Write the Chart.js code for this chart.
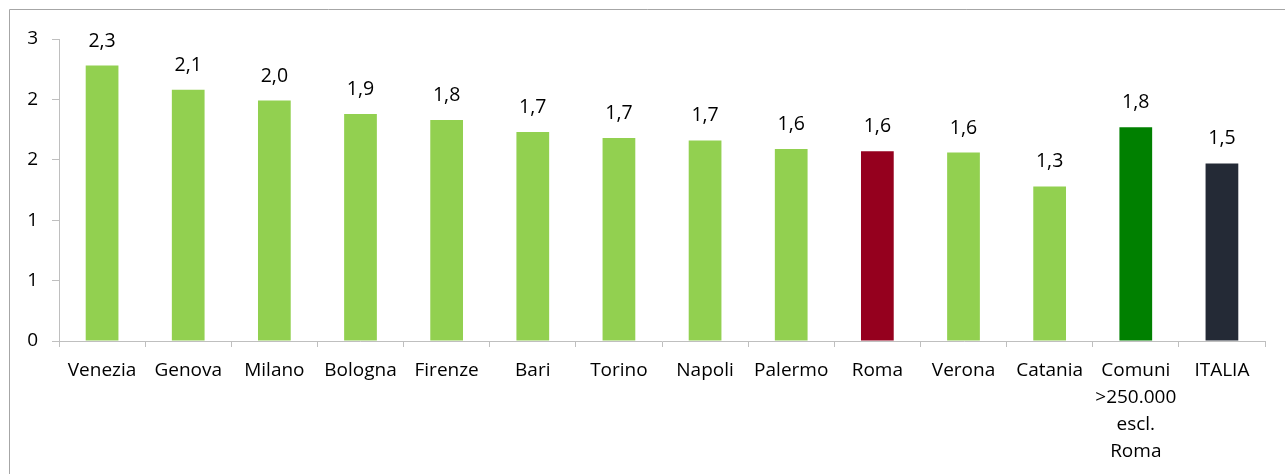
<!DOCTYPE html>
<html lang="it">
<head>
    <meta charset="UTF-8">
    <title>Grandi comuni</title>
    <script src="https://cdn.jsdelivr.net/npm/chart.js"></script>
    <style>
        html, body { margin: 0; padding: 0; background: #fff; overflow: hidden; }
        #wrap { position: relative; width: 1285px; height: 474px; }
    </style>
</head>
<body>
<div id="wrap"><canvas id="chart" width="1285" height="474"></canvas></div>
<script>
    // dati
    const comuni = ['Venezia', 'Genova', 'Milano', 'Bologna', 'Firenze', 'Bari', 'Torino', 'Napoli',
        'Palermo', 'Roma', 'Verona', 'Catania', ['Comuni', '>250.000', 'escl.', 'Roma'], 'ITALIA'];
    const valori = [2.28, 2.08, 1.99, 1.88, 1.83, 1.73, 1.68, 1.66, 1.59, 1.57, 1.56, 1.28, 1.77, 1.47];
    const yTicks = [0, 0.5, 1, 1.5, 2, 2.5];

    const colori = ['#92d050', '#92d050', '#92d050', '#92d050', '#92d050', '#92d050', '#92d050', '#92d050',
        '#92d050', '#95001e', '#92d050', '#92d050', '#008000', '#242a36'];

    const FONT = "'Open Sans', sans-serif";
    const grigio = '#bfbfbf';

    // etichette sopra le barre
    const etichette = {
        id: 'etichette',
        afterDatasetsDraw(chart) {
            const ctx = chart.ctx;
            const meta = chart.getDatasetMeta(0);
            ctx.save();
            ctx.font = '19.5px ' + FONT;
            ctx.fillStyle = '#000';
            ctx.textAlign = 'center';
            ctx.textBaseline = 'alphabetic';
            meta.data.forEach((bar, i) => {
                const txt = valori[i].toFixed(1).replace('.', ',');
                ctx.fillText(txt, bar.x, bar.y - 19);
            });
            ctx.restore();
        }
    };

    // cornice esterna (solo lato sinistro e superiore visibili)
    const cornice = {
        id: 'cornice',
        beforeDraw(chart) {
            const ctx = chart.ctx;
            ctx.save();
            ctx.strokeStyle = '#a6a6a6';
            ctx.lineWidth = 1;
            ctx.beginPath();
            ctx.moveTo(9.5, 474);
            ctx.lineTo(9.5, 9.5);
            ctx.lineTo(1285, 9.5);
            ctx.stroke();
            ctx.restore();
        }
    };

    new Chart(document.getElementById('chart'), {
        type: 'bar',
        data: {
            labels: comuni,
            datasets: [{
                data: valori,
                backgroundColor: colori,
                borderWidth: 0,
                categoryPercentage: 1,
                barPercentage: 0.38
            }]
        },
        options: {
            responsive: false,
            animation: false,
            layout: { padding: { left: 10, right: 20, top: 39, bottom: 0 } },
            plugins: {
                legend: { display: false },
                tooltip: { enabled: false }
            },
            scales: {
                x: {
                    grid: {
                        offset: true,
                        drawOnChartArea: false,
                        drawTicks: true,
                        tickLength: 6,
                        tickColor: grigio
                    },
                    border: { color: grigio },
                    ticks: {
                        color: '#000',
                        font: { family: FONT, size: 19, lineHeight: 1.42 },
                        padding: 10,
                        maxRotation: 0,
                        autoSkip: false
                    },
                    afterFit(scale) { scale.height = 474 - 341; }
                },
                y: {
                    min: 0,
                    max: 2.5,
                    afterBuildTicks(scale) { scale.ticks = yTicks.map(v => ({ value: v })); },
                    grid: {
                        drawOnChartArea: false,
                        drawTicks: true,
                        tickLength: 7,
                        tickColor: grigio
                    },
                    border: { color: grigio },
                    ticks: {
                        color: '#000',
                        font: { family: FONT, size: 19 },
                        padding: 14,
                        callback: v => Math.round(v)
                    },
                    afterFit(scale) { scale.width = 59 - 10; }
                }
            }
        },
        plugins: [cornice, etichette]
    });
</script>
</body>
</html>
